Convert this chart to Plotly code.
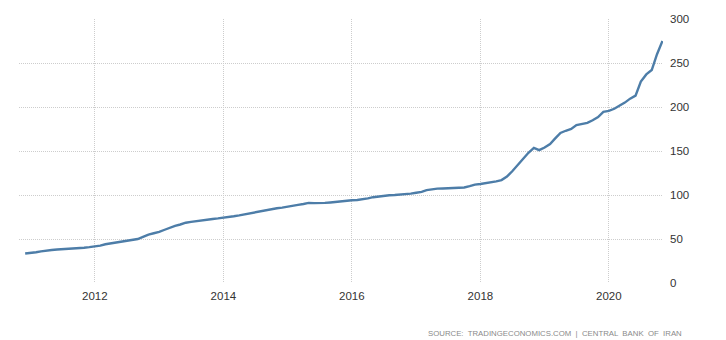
import pandas as pd
import plotly.graph_objects as go

# Monthly index values, Dec 2010 .. Nov 2020
start_month = "2010-12-01"
values = [
    33.5,
    34.0, 35.0, 36.0, 37.0, 37.5, 38.0, 38.3, 38.6, 39.0, 39.5, 40.0, 40.7,
    41.5, 42.5, 44.0, 45.0, 46.0, 46.8, 47.5, 48.5, 50.0, 52.5, 55.0, 56.5,
    58.0, 60.5, 63.0, 65.0, 66.5, 68.5, 69.5, 70.5, 71.5, 72.3, 72.8, 73.4,
    74.0, 74.8, 75.8, 76.8, 78.0, 79.2, 80.3, 81.5, 82.8, 84.0, 85.0, 85.7,
    86.5, 87.5, 88.7, 89.8, 91.0, 90.8, 90.7, 91.0, 91.5, 92.2, 93.0, 93.8,
    94.0, 94.3, 95.0, 96.2, 97.5, 98.5, 99.2, 99.7, 100.0, 100.3, 100.5, 101.5,
    102.5, 103.5, 105.5, 106.8, 107.2, 107.4, 107.6, 107.7, 107.9, 108.5, 110.0, 111.8,
    112.5, 113.3, 114.5, 115.5, 117.0, 121.0, 127.0, 134.0, 141.5, 148.0, 153.5, 151.0,
    154.0, 158.0, 164.0, 170.5, 173.0, 175.0, 179.5, 181.0, 182.0, 185.0, 188.5, 194.5,
    195.5, 198.0, 201.0, 205.0, 209.5, 213.0, 229.0, 237.0, 242.0, 260.0, 275.0,
]
dates = pd.date_range(start_month, periods=len(values), freq="MS")

y_ticks = [0, 50, 100, 150, 200, 250, 300]
x_ticks = ["2012-01-01", "2014-01-01", "2016-01-01", "2018-01-01", "2020-01-01"]
x_tick_labels = ["2012", "2014", "2016", "2018", "2020"]
source_text = "SOURCE:  TRADINGECONOMICS.COM  |  CENTRAL  BANK  OF  IRAN"

fig = go.Figure(
    go.Scatter(
        x=dates,
        y=values,
        mode="lines",
        line=dict(color="#4d7da8", width=2.4),
        hoverinfo="skip",
    )
)

grid = dict(showgrid=True, gridcolor="#cdcdcd", griddash="1px,1px", gridwidth=1)

fig.update_layout(
    width=726,
    height=340,
    margin=dict(l=19, r=63, t=19, b=57),
    paper_bgcolor="white",
    plot_bgcolor="white",
    showlegend=False,
    font=dict(family="Liberation Sans, Arial, sans-serif", size=11.5, color="#333333"),
    xaxis=dict(
        range=["2010-10-27", "2020-11-04"],
        tickvals=x_ticks,
        ticktext=x_tick_labels,
        zeroline=False,
        showline=False,
        ticks="",
        ticklabelstandoff=4,
        **grid,
    ),
    yaxis=dict(
        side="right",
        range=[0, 300],
        tickvals=y_ticks,
        zeroline=False,
        showline=False,
        ticks="",
        ticklabelstandoff=6,
        **grid,
    ),
    annotations=[
        dict(
            text=source_text,
            xref="paper",
            yref="paper",
            x=1.032,
            y=-0.165,
            xanchor="right",
            yanchor="top",
            showarrow=False,
            font=dict(size=7.8, color="#8a8a8a"),
        )
    ],
)

fig.write_html("out.html")
